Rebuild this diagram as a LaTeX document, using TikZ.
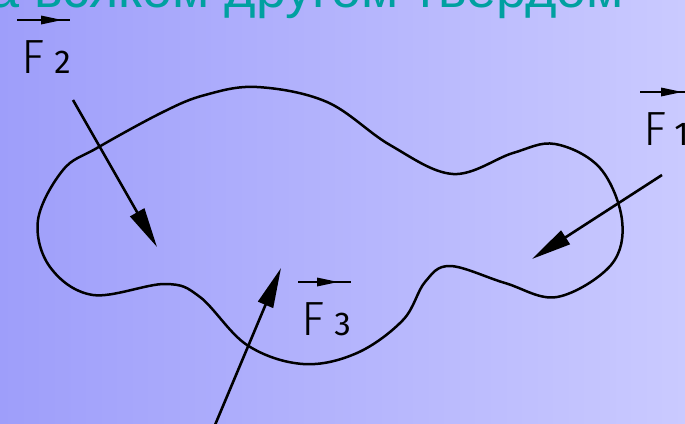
\documentclass[tikz,border=0pt]{standalone}
\usepackage{fontspec}
\setmainfont{Liberation Sans}
\newfontfamily\lblfont{Fira Sans Light}
\newfontfamily\digfont{Fira Sans}
\usetikzlibrary{arrows.meta,decorations.markings}
\definecolor{bgL}{RGB}{158,158,250}
\definecolor{bgR}{RGB}{202,202,255}
\definecolor{titleteal}{RGB}{0,160,160}
\tikzset{
  body/.style={line width=2.5pt, line join=round},
  force/.style={line width=2.6pt, -{Triangle[length=40pt,width=16pt]}},
  lbl/.style={font=\lblfont\fontsize{48}{50}\selectfont, inner sep=0pt, anchor=base west},
  ovar/.style={line width=1.9pt, decoration={markings,
      mark=at position #1 with {\fill (0,0) -- (-21pt,4.5pt) -- (-21pt,-4.5pt) -- cycle;}},
      postaction=decorate}
}
\newcommand{\dg}[1]{{\digfont\fontsize{33}{34}\selectfont #1}}
\begin{document}
\begin{tikzpicture}[x=1pt,y=-1pt]
\useasboundingbox (0,0) rectangle (685,423);
\clip (0,0) rectangle (685,423);
\shade[left color=bgL, right color=bgR] (0,0) rectangle (685,423);

\node[anchor=base east, text=titleteal, font=\fontsize{54}{60}\selectfont, inner sep=0pt] (title) at (624,7) {а всяком другом твердом};

\draw[body] plot[smooth cycle, tension=0.6] coordinates {
 (257,87) (327,102) (390,145) (453,174) (513,153) (555,144) (600,168) (622,220)
 (611,265) (557,297) (505,283) (450,266) (425,282) (403,320) (357,353) (303,364)
 (247,345) (200,297) (165,284) (93,295) (50,267) (38,220) (63,170) (97,148)
 (163,112) (205,95)};

\coordinate (f2s) at (73,100);
\coordinate (f2e) at (157,247);
\coordinate (f1s) at (662,175);
\coordinate (f1e) at (532,259);
\coordinate (f3s) at (215,425);
\coordinate (f3e) at (281,268);
\draw[force] (f2s) -- (f2e);
\draw[force] (f1s) -- (f1e);
\draw[force] (f3s) -- (f3e);

\node[lbl] (F2) at (21,73) {F\hspace{10pt}\dg{2}};
\node[lbl] (F1) at (643,145) {F\hspace{8pt}\dg{1}};
\node[lbl] (F3) at (301,335) {F\hspace{10pt}\dg{3}};

\coordinate (a2s) at (17,20);  \coordinate (a2e) at (70,20);
\coordinate (a1s) at (640,92); \coordinate (a1e) at (700,92);
\coordinate (a3s) at (298,282);\coordinate (a3e) at (351,282);
\draw[ovar=45pt] (a2s) -- (a2e);
\draw[ovar=42pt] (a1s) -- (a1e);
\draw[ovar=40pt] (a3s) -- (a3e);
\end{tikzpicture}
\end{document}
